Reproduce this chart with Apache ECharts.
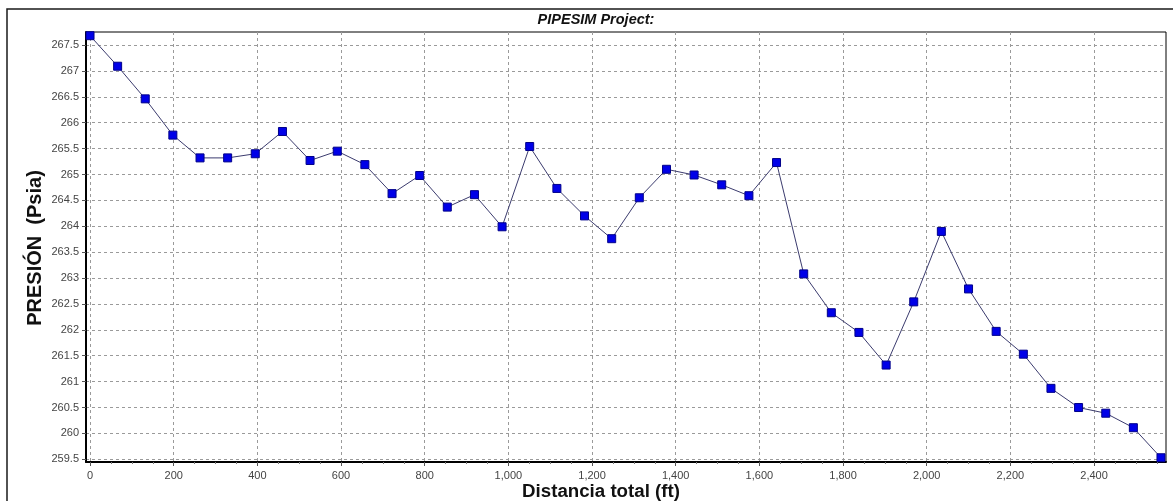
<!DOCTYPE html>
<html>
<head>
<meta charset="utf-8">
<title>PIPESIM Project</title>
<script src="https://cdn.jsdelivr.net/npm/echarts@6/dist/echarts.min.js"></script>
<style>
  html, body { margin: 0; padding: 0; background: #fff; }
  #chart { width: 1173px; height: 501px; }
</style>
</head>
<body>
<div id="chart"></div>
<script>
// Pressure profile along the line: total distance (ft) vs pressure (psia)
const distance = [
  0, 66, 132, 198, 263, 329, 395, 460, 526, 591,
  657, 722, 788, 854, 919, 985, 1051, 1116, 1182, 1247,
  1313, 1378, 1444, 1510, 1575, 1641, 1706, 1772, 1838, 1903,
  1969, 2035, 2100, 2166, 2231, 2297, 2363, 2428, 2494, 2560
];
const pressure = [
  267.68, 267.09, 266.46, 265.76, 265.32, 265.32, 265.40, 265.83, 265.27, 265.45,
  265.19, 264.63, 264.98, 264.37, 264.61, 263.99, 265.54, 264.73, 264.20, 263.76,
  264.55, 265.10, 264.99, 264.80, 264.59, 265.23, 263.08, 262.33, 261.95, 261.32,
  262.54, 263.90, 262.79, 261.97, 261.53, 260.87, 260.50, 260.39, 260.11, 259.53
];

// Axis ticks
const xTicks = [0, 200, 400, 600, 800, 1000, 1200, 1400, 1600, 1800, 2000, 2200, 2400];
const yTicks = [259.5, 260, 260.5, 261, 261.5, 262, 262.5, 263, 263.5, 264, 264.5,
                265, 265.5, 266, 266.5, 267, 267.5];

const titleText = 'PIPESIM Project:';
const xTitle = 'Distancia total (ft)';
const yTitle = 'PRESIÓN  (Psia)';

// minor ticks every 50 ft between the labelled ones
const xMinorTicks = [];
xTicks.forEach(function (t) {
  [50, 100, 150].forEach(function (d) {
    if (t + d <= 2570) xMinorTicks.push(t + d);
  });
});

const FONT = '"Liberation Sans", Arial, sans-serif';
const gridLine = { show: true, lineStyle: { color: '#9a9a9a', width: 1, type: [3, 3] } };

const chart = echarts.init(document.getElementById('chart'), null, { renderer: 'canvas' });

chart.setOption({
  animation: false,
  backgroundColor: '#ffffff',
  grid: {
    left: 86, right: 7, top: 32, bottom: 39,
    show: true, borderColor: '#000', borderWidth: 1,
    containLabel: false
  },
  xAxis: [
    {
      type: 'value',
      min: -9.6,
      max: 2572,
      position: 'bottom',
      axisLine: { show: true, onZero: false, lineStyle: { color: '#000', width: 2 } },
      axisTick: { show: true, customValues: xTicks, length: 4, lineStyle: { color: '#555' } },
      axisLabel: {
        show: true,
        customValues: xTicks,
        margin: 8,
        color: '#444',
        fontSize: 11,
        fontFamily: FONT,
        formatter: function (v) { return Number(v).toLocaleString('en-US'); }
      },
      splitLine: gridLine
    },
    {
      type: 'value',
      min: -9.6,
      max: 2572,
      position: 'bottom',
      axisLine: { show: false },
      axisTick: { show: true, customValues: xMinorTicks, length: 2, lineStyle: { color: '#777' } },
      axisLabel: { show: false },
      splitLine: { show: false }
    }
  ],
  yAxis: {
    type: 'value',
    min: 259.448,
    max: 267.751,
    axisLine: { show: true, onZero: false, lineStyle: { color: '#000', width: 2 } },
    axisTick: { show: true, customValues: yTicks, length: 4, lineStyle: { color: '#555' } },
    axisLabel: {
      show: true,
      customValues: yTicks,
      margin: 7,
      color: '#444',
      fontSize: 11,
      fontFamily: FONT,
      formatter: function (v) { return String(Math.round(v * 10) / 10); }
    },
    splitLine: gridLine
  },
  series: [
    {
      type: 'line',
      xAxisIndex: 0,
      data: distance.map(function (d, i) { return [d, pressure[i]]; }),
      symbol: 'rect',
      symbolSize: 8,
      showAllSymbol: true,
      clip: false,
      lineStyle: { color: '#3b3b6e', width: 1 },
      itemStyle: { color: '#0000e8', borderColor: '#00008a', borderWidth: 1 },
      z: 5
    }
  ],
  graphic: [
    {
      type: 'rect',
      shape: { x: 7, y: 9, width: 1200, height: 520 },
      style: { fill: null, stroke: '#1a1a1a', lineWidth: 1.5 },
      silent: true
    },
    {
      type: 'text',
      x: 596, y: 20,
      style: {
        text: titleText,
        font: 'italic bold 14.5px ' + FONT,
        fill: '#111',
        textAlign: 'center',
        textVerticalAlign: 'middle'
      }
    },
    {
      type: 'text',
      x: 601, y: 492,
      style: {
        text: xTitle,
        font: 'bold 18.7px ' + FONT,
        fill: '#111',
        textAlign: 'center',
        textVerticalAlign: 'middle'
      }
    },
    {
      type: 'text',
      x: 35, y: 248,
      rotation: Math.PI / 2,
      style: {
        text: yTitle,
        font: 'bold 20px ' + FONT,
        fill: '#111',
        textAlign: 'center',
        textVerticalAlign: 'middle'
      }
    }
  ]
});
</script>
</body>
</html>
